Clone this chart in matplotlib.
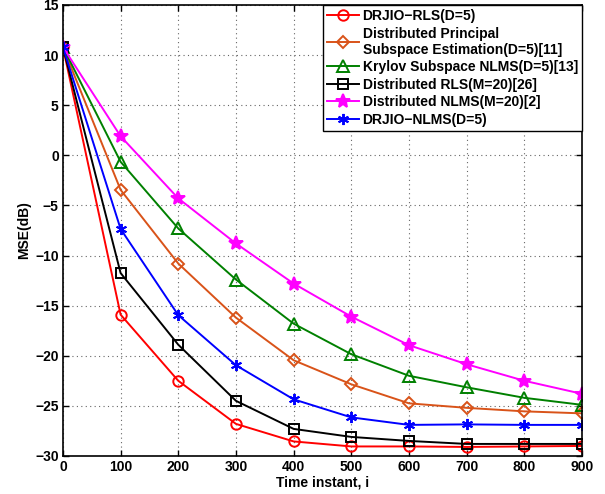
import matplotlib
matplotlib.use("Agg")
import matplotlib.pyplot as plt

plt.rcParams['font.family'] = ['Liberation Sans', 'DejaVu Sans']
plt.rcParams['font.weight'] = 'bold'

x = [0, 100, 200, 300, 400, 500, 600, 700, 800, 900]
drjio_rls = [10.8, -15.9, -22.5, -26.8, -28.55, -29.05, -29.05, -29.1, -29.05, -29.0]
dpse = [10.8, -3.45, -10.8, -16.2, -20.45, -22.85, -24.75, -25.2, -25.55, -25.75]
krylov = [10.8, -0.65, -7.3, -12.4, -16.8, -19.85, -22.0, -23.15, -24.2, -24.9]
drls = [10.8, -11.75, -18.9, -24.5, -27.3, -28.1, -28.5, -28.8, -28.8, -28.8]
dnlms = [10.8, 1.9, -4.3, -8.8, -12.8, -16.1, -18.95, -20.85, -22.5, -23.8]
drjio_nlms = [10.8, -7.35, -15.95, -20.95, -24.35, -26.15, -26.9, -26.85, -26.9, -26.9]

labels = ['DRJIO\u2212RLS(D=5)',
          'Distributed Principal\nSubspace Estimation(D=5)[11]',
          'Krylov Subspace NLMS(D=5)[13]',
          'Distributed RLS(M=20)[26]',
          'Distributed NLMS(M=20)[2]',
          'DRJIO\u2212NLMS(D=5)']
xticks = [0, 100, 200, 300, 400, 500, 600, 700, 800, 900]
yticks = [-30, -25, -20, -15, -10, -5, 0, 5, 10, 15]

series = [drjio_rls, dpse, krylov, drls, dnlms, drjio_nlms]
colors = ['#ff0000', '#d95319', '#008000', '#000000', '#ff00ff', '#0000ff']
markers = ['o', 'D', '^', 's', '*', '*']
msizes = [7.5, 6.5, 8.0, 6.5, 10.5, 8]

FS = 10

fig = plt.figure(figsize=(6.05, 4.94), dpi=100)
ax = fig.add_axes([0.104, 0.077, 0.858, 0.913])

for y, c, m, ms, lab in zip(series, colors, markers, msizes, labels):
    if m == '*' and c == '#0000ff':
        ax.plot(x, y, color=c, lw=1.4, marker=(6, 2, 0), ms=ms, mew=1.4, label=lab)
    else:
        ax.plot(x, y, color=c, lw=1.4, marker=m, ms=ms, mfc='none' if m != '*' else c,
                mec=c, mew=1.4, label=lab)

ax.set_xlim(0, 900)
ax.set_ylim(-30, 15)
ax.set_xticks(xticks)
ax.set_yticks(yticks)
ax.tick_params(direction='in', labelsize=FS, length=4, width=1, top=True, right=True, pad=3)
for lbl in ax.get_xticklabels() + ax.get_yticklabels():
    lbl.set_fontweight('bold')
ax.grid(True, linestyle=(0, (1, 3)), color='#666666', lw=0.8)
for s in ax.spines.values():
    s.set_linewidth(1.2)
ax.set_xlabel('Time instant, i', fontsize=FS, fontweight='bold', labelpad=1)
ax.set_ylabel('MSE(dB)', fontsize=FS, fontweight='bold', labelpad=3)

leg = ax.legend(loc='upper right', bbox_to_anchor=(1.0, 1.0), borderaxespad=0,
                fancybox=False, edgecolor='black', framealpha=1,
                prop={'size': FS, 'weight': 'bold'}, handlelength=2.3,
                handletextpad=0.25, labelspacing=0.25, borderpad=0.3)
leg.get_frame().set_linewidth(1.0)

fig.savefig('out.png', dpi=100)
